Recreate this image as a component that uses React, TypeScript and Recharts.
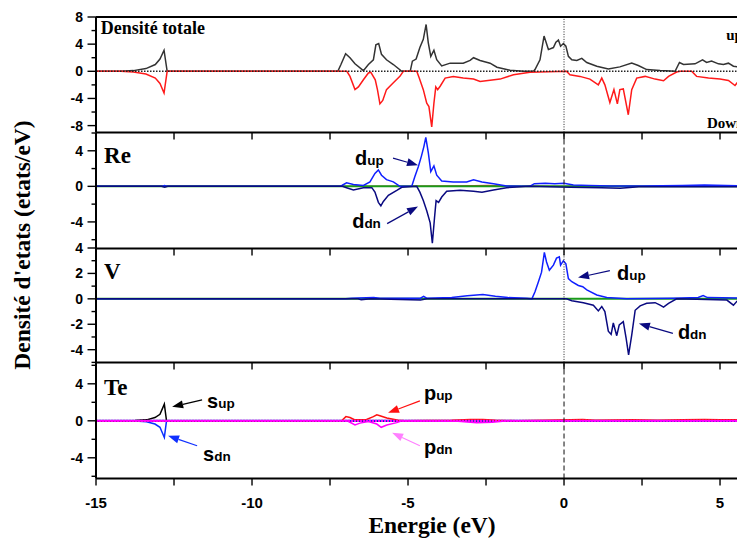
import { LineChart, Line, XAxis, YAxis, ReferenceLine, ReferenceDot } from "recharts";

type Pt = [number, number];

const energyTicks = [-15, -12.5, -10, -7.5, -5, -2.5, 0, 2.5, 5];
const energyDomain = [-15, 5.8];

// Densité totale
const totalUp: Pt[] = [
  [-15, 0], [-14.2, 0], [-13.8, 0.1], [-13.4, 0.4], [-13.1, 1.0], [-12.95, 1.8], [-12.82, 3.1], [-12.72, 0],
  [-7.25, 0], [-7.15, 1.0], [-7.0, 2.6], [-6.86, 2.0], [-6.7, 1.1], [-6.43, 0.1], [-6.27, 1.0], [-6.11, 1.7],
  [-6.03, 3.9], [-5.94, 4.1], [-5.85, 2.5], [-5.69, 1.7], [-5.47, 1.0], [-5.2, 0], [-4.93, 0], [-4.86, 1.5],
  [-4.74, 1.8], [-4.62, 3.5], [-4.51, 4.7], [-4.42, 6.9], [-4.35, 4.2], [-4.27, 2.2], [-4.17, 3.1], [-4.08, 1.7],
  [-3.92, 0.8], [-3.65, 1.2], [-3.23, 1.2], [-3.01, 1.6], [-2.9, 2.0], [-2.69, 1.6], [-2.37, 1.2], [-2.15, 0.6],
  [-1.73, 0.15], [-1.3, 0], [-0.98, 0], [-0.93, 0.25], [-0.77, 1.7], [-0.64, 5.2], [-0.5, 3.2], [-0.34, 3.5],
  [-0.26, 4.3], [-0.18, 4.6], [-0.11, 3.7], [-0.02, 4.1], [0.06, 3.7], [0.14, 2.2], [0.25, 1.7], [0.41, 1.6],
  [0.57, 1.9], [0.73, 1.3], [1.05, 0.75], [1.42, 0.35], [1.79, 0.65], [2.17, 1.2], [2.38, 0.85], [2.65, 0.25],
  [3.08, 0.1], [3.56, 0], [3.7, 1.3], [3.83, 1.0], [4.2, 1.1], [4.44, 1.7], [4.57, 1.3], [4.73, 1.5],
  [4.95, 1.1], [5.11, 1.0], [5.27, 1.2], [5.43, 0.75], [5.8, 0.5],
];
const totalDown: Pt[] = [
  [-15, 0], [-14.2, 0], [-13.8, -0.1], [-13.4, -0.4], [-13.1, -1.0], [-12.95, -1.8], [-12.82, -3.2], [-12.72, 0],
  [-6.96, 0], [-6.86, -0.75], [-6.7, -2.7], [-6.59, -2.3], [-6.43, -1.25], [-6.27, -0.25], [-6.19, -0.15],
  [-6.05, -1.25], [-5.98, -2.7], [-5.9, -4.8], [-5.81, -4.3], [-5.69, -2.7], [-5.47, -1.7], [-5.26, -0.75],
  [-5.15, 0], [-4.72, 0], [-4.64, -1.0], [-4.51, -2.7], [-4.4, -4.7], [-4.33, -5.2], [-4.24, -8.2], [-4.17, -4.7],
  [-4.11, -2.3], [-4.05, -2.7], [-3.97, -2.2], [-3.81, -1.0], [-3.55, -0.75], [-3.23, -1.0], [-2.9, -1.15],
  [-2.69, -1.5], [-2.05, -1.15], [-1.62, -0.5], [-1.09, -0.15], [-0.5, -0.05], [0.08, 0], [0.19, -0.5],
  [0.51, -0.75], [0.83, -1.15], [1.1, -2.0], [1.21, -1.0], [1.31, -2.0], [1.47, -4.6], [1.6, -2.7], [1.71, -4.8],
  [1.79, -2.7], [1.9, -2.6], [2.06, -6.4], [2.17, -2.7], [2.33, -1.0], [2.6, -0.75], [2.92, -1.15], [3.19, -1.4],
  [3.35, -0.75], [3.61, -0.1], [3.72, 0], [4.09, 0], [4.25, -0.75], [4.63, -1.0], [5.0, -1.15], [5.27, -1.35],
  [5.48, -2.1], [5.64, -1.15], [5.8, -1.25],
];

// Re
const reDUp: Pt[] = [
  [-15, 0], [-12.9, 0], [-12.8, 0.1], [-12.7, 0], [-7.2, 0], [-7.12, 0.1], [-6.97, 0.4], [-6.75, 0.2],
  [-6.43, 0.1], [-6.22, 0.5], [-6.06, 1.45], [-5.95, 1.85], [-5.85, 1.25], [-5.69, 0.75], [-5.47, 0.5],
  [-5.26, 0], [-4.88, 0], [-4.78, 1.1], [-4.67, 2.2], [-4.57, 3.4], [-4.49, 4.5], [-4.43, 5.5], [-4.35, 3.8],
  [-4.27, 1.65], [-4.17, 2.3], [-4.08, 1.25], [-3.92, 0.6], [-3.55, 0.5], [-3.12, 0.5], [-2.9, 0.75],
  [-2.63, 0.5], [-2.26, 0.3], [-1.84, 0.05], [-1.1, 0], [-0.95, 0.3], [-0.6, 0.35], [-0.3, 0.3], [0.0, 0.35],
  [0.3, 0.15], [0.8, 0.1], [1.5, 0.05], [2.5, 0.05], [3.8, 0.1], [4.5, 0.15], [5.8, 0.05],
];
const reDDown: Pt[] = [
  [-15, 0], [-12.9, 0], [-12.8, -0.1], [-12.7, 0], [-7.1, 0], [-6.97, -0.15], [-6.75, -0.4], [-6.43, -0.15],
  [-6.16, -0.15], [-6.06, -0.65], [-5.95, -1.8], [-5.87, -2.2], [-5.79, -1.7], [-5.63, -1.0], [-5.36, -0.45],
  [-5.2, -0.1], [-4.72, 0], [-4.62, -0.65], [-4.51, -1.6], [-4.4, -2.75], [-4.29, -4.1], [-4.22, -6.4],
  [-4.15, -3.5], [-4.1, -1.6], [-4.02, -1.8], [-3.92, -1.2], [-3.76, -0.55], [-3.33, -0.45], [-2.9, -0.55],
  [-2.63, -0.65], [-2.26, -0.4], [-1.84, -0.15], [-1.1, 0], [0.2, -0.1], [1.2, -0.15], [1.8, -0.2],
  [2.4, -0.05], [5.8, -0.05],
];
const reOther: Pt[] = [
  [-15, 0], [-6.8, 0], [-6.6, 0.08], [-6.3, 0], [-3.4, 0.05], [-2.4, 0.1], [-1.8, 0], [5.8, 0],
];
const reP: Pt[] = [[-15, 0], [5.8, 0]];

// V
const vDUp: Pt[] = [
  [-15, 0], [-7.0, 0], [-6.8, 0.05], [-6.1, 0.1], [-5.9, 0.05], [-4.6, 0.05], [-4.5, 0.2], [-4.4, 0.05],
  [-3.6, 0.1], [-3.1, 0.25], [-2.6, 0.35], [-2.2, 0.2], [-1.8, 0.1], [-1.2, 0.05], [-1.03, 0], [-0.93, 0.55],
  [-0.82, 1.35], [-0.72, 2.1], [-0.63, 3.65], [-0.56, 2.9], [-0.47, 2.25], [-0.34, 2.65], [-0.24, 3.2],
  [-0.15, 3.3], [-0.11, 2.65], [-0.02, 3.0], [0.06, 2.75], [0.14, 1.6], [0.25, 1.35], [0.46, 1.05], [0.6, 0.95],
  [0.73, 0.7], [1.05, 0.3], [1.37, 0.1], [2.0, 0], [3.5, 0.05], [4.3, 0.1], [4.46, 0.25], [4.6, 0.1], [5.8, 0.05],
];
const vDDown: Pt[] = [
  [-15, 0], [-6.6, 0], [-6.5, -0.08], [-6.2, 0], [-4.6, -0.1], [-4.4, 0], [0.08, 0], [0.25, -0.15],
  [0.62, -0.3], [0.94, -0.5], [1.1, -0.95], [1.21, -0.6], [1.31, -1.0], [1.42, -2.55], [1.51, -2.8],
  [1.58, -1.9], [1.69, -2.9], [1.77, -2.05], [1.9, -1.8], [1.99, -3.1], [2.07, -4.4], [2.17, -2.85],
  [2.28, -0.9], [2.44, -0.55], [2.65, -0.35], [2.92, -0.3], [3.08, -0.5], [3.19, -0.65], [3.35, -0.35],
  [3.61, 0], [5.22, -0.1], [5.43, -0.5], [5.54, -0.2], [5.8, -0.1],
];
const vP: Pt[] = [[-15, 0], [5.8, 0]];

// Te
const teD: Pt[] = [[-15, 0], [5.8, 0]];
const teSUp: Pt[] = [
  [-15, 0], [-14.2, 0], [-13.75, 0.03], [-13.38, 0.1], [-13.11, 0.35], [-12.95, 0.7], [-12.81, 1.8],
  [-12.74, 0], [5.8, 0],
];
const teSDown: Pt[] = [
  [-15, 0], [-14.2, 0], [-13.75, -0.03], [-13.38, -0.1], [-13.11, -0.35], [-12.95, -0.7], [-12.81, -1.8],
  [-12.74, 0], [5.8, 0],
];
const tePUp: Pt[] = [
  [-15, 0], [-7.13, 0], [-6.99, 0.45], [-6.86, 0.35], [-6.7, 0.1], [-6.33, 0.15], [-6.11, 0.45], [-6.0, 0.65],
  [-5.9, 0.55], [-5.68, 0.3], [-5.31, 0.07], [-5.1, 0], [-3.6, 0.05], [-3.0, 0.15], [-2.6, 0.15], [-2.2, 0.05],
  [-1.5, 0], [-0.6, 0.05], [0.6, 0.15], [1.0, 0.05], [2.2, 0.1], [3.0, 0.05], [3.8, 0.1], [4.5, 0.15],
  [5.0, 0.1], [5.8, 0.1],
];
const tePDown: Pt[] = [
  [-15, 0], [-6.95, 0], [-6.92, -0.05], [-6.7, -0.45], [-6.54, -0.25], [-6.27, -0.07], [-6.0, -0.35],
  [-5.86, -0.7], [-5.68, -0.45], [-5.36, -0.2], [-5.2, 0], [-3.4, -0.05], [-2.8, -0.2], [-2.3, -0.15],
  [-1.8, 0], [5.8, 0],
];

const rows = (pts: Pt[]) => pts.map(([e, v]) => ({ e, v }));

const SANS = "'Liberation Sans', Arial, sans-serif";
const SERIF = "'Liberation Serif', 'Times New Roman', serif";

const yTick = (step: number) => (props: any) => {
  const { x, y, payload } = props;
  const v = payload.value;
  const major = Math.abs(v % step) < 1e-6;
  return (
    <g>
      <line x1={x - (major ? 8.5 : 4.5)} y1={y} x2={x} y2={y} stroke="#000" strokeWidth={1.4} />
      {major && (
        <text x={x - 13} y={y} dy={5} textAnchor="end" fontSize={14} fontWeight="bold" fontFamily={SANS} fill="#000">
          {v}
        </text>
      )}
    </g>
  );
};

const xTick = (labels: boolean) => (props: any) => {
  const { x, y, payload } = props;
  const v = payload.value;
  const major = Math.abs(v % 5) < 1e-6;
  return (
    <g>
      <line x1={x} y1={y} x2={x} y2={y + 7} stroke="#000" strokeWidth={1.4} />
      {labels && major && (
        <text x={x} y={y + 29} textAnchor="middle" fontSize={15} fontWeight="bold" fontFamily={SANS} fill="#000">
          {v}
        </text>
      )}
    </g>
  );
};

const arrow = (color: string) => (p: any) => {
  const { x1, y1, x2, y2 } = p;
  const a = Math.atan2(y2 - y1, x2 - x1);
  const L = 11;
  const W = 4;
  const bx = x2 - L * Math.cos(a);
  const by = y2 - L * Math.sin(a);
  const px = -Math.sin(a) * W;
  const py = Math.cos(a) * W;
  return (
    <g>
      <line x1={x1} y1={y1} x2={bx} y2={by} stroke={color} strokeWidth={1.2} />
      <polygon points={`${x2},${y2} ${bx + px},${by + py} ${bx - px},${by - py}`} fill={color} />
    </g>
  );
};

const subText = (main: string, sub: string) => (p: any) => (
  <text x={p.cx} y={p.cy} fontFamily={SANS} fontWeight="bold" fill="#000">
    <tspan fontSize={20}>{main}</tspan>
    <tspan fontSize={13.5}>{sub}</tspan>
  </text>
);

const plainText = (t: string, size: number) => (p: any) => (
  <text x={p.cx} y={p.cy} fontFamily={SERIF} fontWeight="bold" fontSize={size} fill="#000">
    {t}
  </text>
);

function Panel(props: {
  plotTop: number;
  plotH: number;
  yDomain: number[];
  yTicks: number[];
  yStep: number;
  bottomH: number;
  xLabels: boolean;
  children: any;
}) {
  const { plotTop, plotH, yDomain, yTicks, yStep, bottomH, xLabels, children } = props;
  return (
    <div style={{ position: "absolute", left: 0, top: plotTop - 10 }}>
      <LineChart width={737} height={plotH + 10 + bottomH} margin={{ top: 10, right: 0, bottom: 0, left: 0 }}>
        <XAxis
          type="number"
          dataKey="e"
          domain={energyDomain}
          ticks={energyTicks}
          interval={0}
          allowDataOverflow
          height={bottomH}
          tickSize={0}
          tickMargin={0}
          tickLine={false}
          axisLine={{ stroke: "#000", strokeWidth: 2 }}
          tick={xTick(xLabels)}
        />
        <YAxis
          type="number"
          domain={yDomain}
          ticks={yTicks}
          interval={0}
          allowDataOverflow
          width={88}
          tickSize={0}
          tickMargin={0}
          tickLine={false}
          axisLine={{ stroke: "#000", strokeWidth: 2 }}
          tick={yTick(yStep)}
        />
        {children}
      </LineChart>
    </div>
  );
}

const series = (name: string, pts: Pt[], color: string, width = 1.5) => (
  <Line
    key={name}
    name={name}
    data={rows(pts)}
    dataKey="v"
    type="linear"
    stroke={color}
    strokeWidth={width}
    dot={false}
    activeDot={false}
    isAnimationActive={false}
  />
);

export default function App() {
  return (
    <div style={{ position: "relative", width: 737, height: 532 }}>
      <Panel plotTop={9.3} plotH={115.4} yDomain={[-9, 8]} yTicks={[-8, -6, -4, -2, 0, 2, 4, 6, 8]} yStep={4} bottomH={10} xLabels={false}>
        {series("total up", totalUp, "#333333")}
        {series("total down", totalDown, "#ff1a1a")}
        <ReferenceLine y={0} stroke="#222" strokeWidth={1.4} strokeDasharray="1.5 1.5" />
        <ReferenceLine x={0} stroke="#222" strokeWidth={1} strokeDasharray="1 1.5" />
        <ReferenceLine y={8} stroke="#000" strokeWidth={2} />
        <ReferenceDot x={-14.85} y={5.45} r={0} shape={plainText("Densité totale", 18)} />
        <ReferenceDot x={5.2} y={4.6} r={0} shape={plainText("up", 15)} />
        <ReferenceDot x={4.58} y={-8.41} r={0} shape={plainText("Down", 15)} />
      </Panel>

      <Panel plotTop={124.7} plotH={115.6} yDomain={[-7, 6]} yTicks={[-6, -4, -2, 0, 2, 4, 6]} yStep={4} bottomH={10} xLabels={false}>
        {series("Re other", reOther, "#ff3030", 1.2)}
        {series("Re p", reP, "#1a9a1a", 2)}
        {series("Re d up", reDUp, "#1020ff")}
        {series("Re d dn", reDDown, "#0a0a80")}
        <ReferenceLine x={0} stroke="#222" strokeWidth={1.1} strokeDasharray="5 3" />
        <ReferenceDot x={-14.74} y={2.6} r={0} shape={plainText("Re", 23)} />
        <ReferenceDot x={-6.7} y={2.35} r={0} shape={subText("d", "up")} />
        <ReferenceLine segment={[{ x: -5.48, y: 3.17 }, { x: -4.68, y: 2.38 }]} shape={arrow("#0a0a80")} />
        <ReferenceDot x={-6.79} y={-4.65} r={0} shape={subText("d", "dn")} />
        <ReferenceLine segment={[{ x: -5.67, y: -4.19 }, { x: -4.68, y: -2.27 }]} shape={arrow("#0a0a80")} />
      </Panel>

      <Panel plotTop={240.3} plotH={114.4} yDomain={[-5, 4]} yTicks={[-5, -4, -3, -2, -1, 0, 1, 2, 3, 4]} yStep={2} bottomH={10} xLabels={false}>
        {series("V p", vP, "#1a9a1a", 2)}
        {series("V d up", vDUp, "#1020ff")}
        {series("V d dn", vDDown, "#0a0a80")}
        <ReferenceLine x={0} stroke="#222" strokeWidth={1} strokeDasharray="1 1.5" />
        <ReferenceDot x={-14.74} y={1.6} r={0} shape={plainText("V", 23)} />
        <ReferenceDot x={1.7} y={1.51} r={0} shape={subText("d", "up")} />
        <ReferenceLine segment={[{ x: 1.47, y: 2.22 }, { x: 0.45, y: 1.67 }]} shape={arrow("#0a0a80")} />
        <ReferenceDot x={3.65} y={-3.19} r={0} shape={subText("d", "dn")} />
        <ReferenceLine segment={[{ x: 3.49, y: -2.72 }, { x: 2.4, y: -1.94 }]} shape={arrow("#0a0a80")} />
      </Panel>

      <Panel plotTop={354.7} plotH={115.6} yDomain={[-6.25, 6.25]} yTicks={[-6, -4, -2, 0, 2, 4, 6]} yStep={4} bottomH={62} xLabels={true}>
        {series("Te d", teD, "#1020c0", 2)}
        {series("Te s up", teSUp, "#000000")}
        {series("Te s dn", teSDown, "#0a30ff")}
        {series("Te p up", tePUp, "#ff1010")}
        {series("Te p dn", tePDown, "#ff00ff")}
        <ReferenceLine y={0} stroke="#ff00ff" strokeWidth={2.2} strokeDasharray="2 1" />
        <ReferenceLine x={0} stroke="#222" strokeWidth={1.1} strokeDasharray="5 3" />
        <ReferenceDot x={-14.74} y={2.8} r={0} shape={plainText("Te", 23)} />
        <ReferenceDot x={-11.44} y={1.41} r={0} shape={subText("s", "up")} />
        <ReferenceLine segment={[{ x: -11.6, y: 2.27 }, { x: -12.56, y: 1.51 }]} shape={arrow("#000000")} />
        <ReferenceDot x={-11.57} y={-4.32} r={0} shape={subText("s", "dn")} />
        <ReferenceLine segment={[{ x: -11.76, y: -2.7 }, { x: -12.69, y: -1.62 }]} shape={arrow("#1030ff")} />
        <ReferenceDot x={-4.49} y={2.27} r={0} shape={subText("p", "up")} />
        <ReferenceLine segment={[{ x: -4.62, y: 2.16 }, { x: -5.64, y: 0.86 }]} shape={arrow("#ff1010")} />
        <ReferenceDot x={-4.49} y={-3.57} r={0} shape={subText("p", "dn")} />
        <ReferenceLine segment={[{ x: -4.62, y: -2.7 }, { x: -5.51, y: -1.3 }]} shape={arrow("#ff80ff")} />
      </Panel>

      <div
        style={{
          position: "absolute",
          left: 14 - 160,
          top: 237 - 15,
          width: 320,
          height: 30,
          lineHeight: "30px",
          textAlign: "center",
          transform: "rotate(-90deg)",
          fontFamily: SERIF,
          fontWeight: "bold",
          fontSize: 23.5,
          whiteSpace: "nowrap",
        }}
      >
        Densité d'etats (etats/eV)
      </div>
      <div
        style={{
          position: "absolute",
          left: 424 - 160,
          top: 503,
          width: 320,
          lineHeight: "28px",
          textAlign: "center",
          fontFamily: SERIF,
          fontWeight: "bold",
          fontSize: 23.5,
          whiteSpace: "nowrap",
        }}
      >
        Energie (eV)
      </div>
    </div>
  );
}
